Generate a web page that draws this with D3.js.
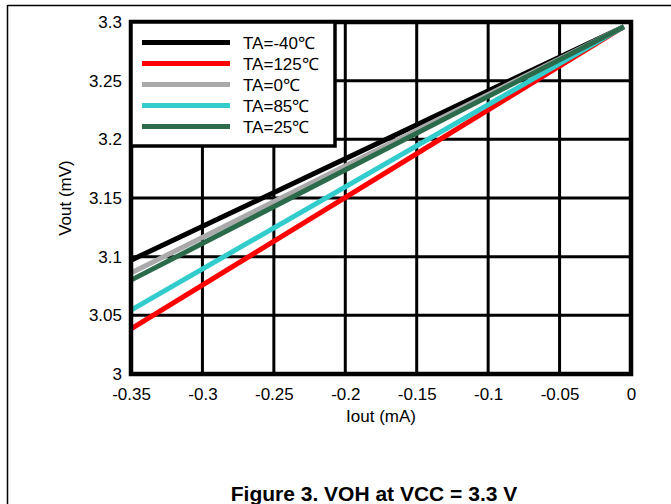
<!DOCTYPE html>
<html><head><meta charset="utf-8">
<script src="https://cdn.jsdelivr.net/npm/d3@7"></script>
<style>
body{margin:0;background:#fff;}
svg{display:block;font-family:"Liberation Sans",Arial,sans-serif;}
</style></head>
<body>
<svg id="c" width="671" height="504"></svg>
<script>
const seriesNames = ["TA=-40\u2103","TA=125\u2103","TA=0\u2103","TA=85\u2103","TA=25\u2103"];
const seriesColors = ["#000000","#ff0000","#aaaaaa","#33cccc","#2b6b4c"];
const iout = [-0.35, -0.005];
const vM40 = [3.097, 3.296];
const v125 = [3.0385, 3.296];
const v0 = [3.086, 3.296];
const v85 = [3.0545, 3.296];
const v25 = [3.080, 3.296];
const seriesValues = [vM40, v125, v0, v85, v25];
const xTicks = [-0.35,-0.3,-0.25,-0.2,-0.15,-0.1,-0.05,0];
const yTicks = [3,3.05,3.1,3.15,3.2,3.25,3.3];
const xTitle = "Iout (mA)";
const yTitle = "Vout (mV)";
const caption = "Figure 3. VOH at VCC = 3.3 V";

const svg = d3.select("#c");
const L=131,R=631,T=22,B=374;
const x = d3.scaleLinear().domain([-0.35,0]).range([L,R]);
const y = d3.scaleLinear().domain([3,3.3]).range([B,T]);
const fmt = d=>String(+(+d).toFixed(2));

// frame lines
svg.append("line").attr("x1",7.5).attr("x2",671).attr("y1",5.5).attr("y2",5.5).attr("stroke","#000").attr("stroke-width",1.5);
svg.append("line").attr("x1",7.5).attr("x2",7.5).attr("y1",5).attr("y2",504).attr("stroke","#000").attr("stroke-width",1.5);

// grid
const g = svg.append("g");
g.selectAll("line.vx").data(xTicks.slice(1,-1)).join("line")
 .attr("x1",d=>x(d)).attr("x2",d=>x(d)).attr("y1",T).attr("y2",B)
 .attr("stroke","#000").attr("stroke-width",3);
g.selectAll("line.hy").data(yTicks.slice(1,-1)).join("line")
 .attr("x1",L).attr("x2",R).attr("y1",d=>y(d)).attr("y2",d=>y(d))
 .attr("stroke","#000").attr("stroke-width",3);

// series
const line = d3.line().x(d=>x(d[0])).y(d=>y(d[1]));
seriesValues.forEach((vals,i)=>{
  svg.append("path").datum(iout.map((xv,j)=>[xv,vals[j]]))
   .attr("d",line).attr("fill","none").attr("stroke",seriesColors[i])
   .attr("stroke-width",5);
});

// border
svg.append("rect").attr("x",L).attr("y",T).attr("width",R-L).attr("height",B-T)
 .attr("fill","none").attr("stroke","#000").attr("stroke-width",4.5);

// legend
const lg = svg.append("g");
lg.append("rect").attr("x",L).attr("y",T).attr("width",204).attr("height",124)
 .attr("fill","#fff").attr("stroke","#000").attr("stroke-width",3.5);
seriesNames.forEach((n,i)=>{
  const yy = 42.5 + i*21;
  lg.append("line").attr("x1",142).attr("x2",230).attr("y1",yy).attr("y2",yy)
   .attr("stroke",seriesColors[i]).attr("stroke-width",5);
  lg.append("text").attr("x",243).attr("y",yy+6).attr("font-size",17).text(n);
});

// axes labels via d3 axes
const xa = svg.append("g").attr("transform",`translate(0,${B})`)
 .call(d3.axisBottom(x).tickValues(xTicks).tickSize(0).tickPadding(14).tickFormat(fmt));
const ya = svg.append("g").attr("transform",`translate(${L},0)`)
 .call(d3.axisLeft(y).tickValues(yTicks).tickSize(0).tickPadding(9).tickFormat(fmt));
[xa,ya].forEach(a=>{a.select(".domain").remove();a.selectAll("text").attr("font-size",17).attr("fill","#000").attr("font-family","Liberation Sans, Arial, sans-serif");});

svg.append("text").attr("x",381).attr("y",422).attr("text-anchor","middle").attr("font-size",17).text(xTitle);
svg.append("text").attr("transform","translate(71,198) rotate(-90)").attr("text-anchor","middle").attr("font-size",17).text(yTitle);
svg.append("text").attr("x",374).attr("y",501).attr("text-anchor","middle").attr("font-size",21).attr("font-weight","bold").text(caption);
</script>
</body></html>
